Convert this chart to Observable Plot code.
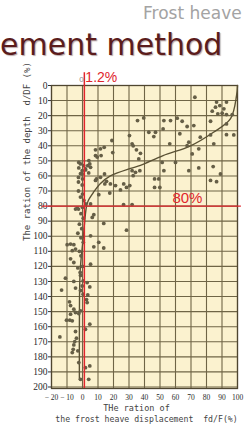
<!DOCTYPE html>
<html>
<head>
<meta charset="utf-8">
<script src="https://cdn.jsdelivr.net/npm/d3@7"></script>
<script src="https://cdn.jsdelivr.net/npm/@observablehq/plot@0.6"></script>
<style>
  html, body { margin: 0; padding: 0; background: #ffffff; }
  #wrap { position: relative; width: 251px; height: 426px; overflow: hidden; }
  #chart { position: absolute; left: 0; top: 0; }
  .t1 { position: absolute; left: 143px; top: 3px; font-family: "DejaVu Sans", sans-serif; font-size: 17px; color: #a3a3a3; white-space: nowrap; }
  .t2 { position: absolute; left: 0px; top: 27px; font-family: "DejaVu Sans", sans-serif; font-size: 30px; color: #5b1c1c; white-space: nowrap; text-shadow: 1px 1px 1px #b9a9a9; }
</style>
</head>
<body>
<div id="wrap">
  <div id="chart"></div>
  <div class="t1">Frost heave</div>
  <div class="t2">ement method</div>
</div>
<script>
// ---- data ----
const xTicks = [-20, -10, 0, 10, 20, 30, 40, 50, 60, 70, 80, 90, 100];
const yTicks = [0, 10, 20, 30, 40, 50, 60, 70, 80, 90, 100, 110, 120, 130, 140, 150, 160, 170, 180, 190, 200];

// [fd/F %, d/DF %]
const upperPoints = [
  [72.5,7.8],[86.5,11],[92.9,11],[88.6,13.3],[85.8,14.4],[91.2,15.5],[83.7,17],[90.1,18.4],[87.3,18.8],[92.9,19.3],[96.6,19.3],
  [82.6,23.7],[92.9,25.5],[52.5,23.3],[56.8,23.3],[61.1,21.7],[64.3,23.7],[67.5,27.2],[71.8,26.6],[39.5,21.5],[35.5,23.3],
  [42.8,31],[47.1,31],[46,33.9],[52,28.8],[62.8,32],[82.6,32.8],[92.9,32.6],[97.6,32.8],[76,34.3],[56.3,38.7],[68.6,37.6],
  [67.5,39.9],[84.7,38.7],[75,42],[70.8,45.4],[51.4,51],[60,51],[52.5,56.5],[68.6,56.5],[75,54.7],[84.3,53.8],[89,58.7],
  [46.5,62],[49.2,62],[46.5,67.6],[49.9,67.6],[82.6,63],[86.5,63.8],[37.4,45],[32,38.7],[36.3,48.7],[30.3,33.2],[32.7,40],
  [34.8,42.7],[32,56.5],[34.2,57.6],[37,56.5],[32.7,59.8],[30.5,66.4],[26.6,65.3],[28.4,67.6],[24.5,69.3],[17.6,71.3],
  [26.5,79],[32,79],[28.4,96]
];
const middlePoints = [
  [19,36.5],[14,41],[8.4,42.7],[11.6,42],[19.5,44.5],[8.4,46.5],[12,46.5],[9.5,47.5],
  [-2.4,51],[-1.3,52],[-2.4,54.7],[-0.2,56.5],[1.9,55.4],[4.1,49.8],[4.7,52],[5.2,54.3],[3.4,53.2],[0.8,53.2],[-0.2,58.7],
  [2,56],[4,58],[-1.3,58.5],[-2.6,61],[0,62],[9,62],[11.6,60.9],[15.5,63.6],[14.2,58.7],[18,65.3],[21.3,66.4],[8.4,63],[14.4,65.3],
  [-2.6,64],[-0.2,66],[-2.6,70],[0,72],[-1.3,74],[0.9,76.3],[2,78.6],[0,80.8],[-2.6,82],[-4.5,82],[5.2,78.6],[10.5,72.4],
  [7.3,85.7],[6.3,87.5],[13.7,91.5],[5.2,99.7],[7.3,107],[13.7,107.8],[10.5,104],[5.2,118.5],[-3.4,81.3],
  [-9.9,105.6],[-7.7,105.2],[-5.6,105.6],[-4.5,108.5],[-6.6,109.6],[-7.7,115],[-5.6,117.4],
  [-1,85],[0.5,88],[-2,92],[-0.5,95],[-3,98],[-1,101],[0.5,104],[-2,110],[-1,113],[0,120],[-3,121],[-1.5,124]
];
const lowerPoints = [
  [-11,127.8],[-13.5,135.7],[-5.6,130],[-4.5,134.4],[-1.3,126],[0.4,129.6],[-0.2,133],[-1.3,136],[0.4,138.4],[3,130.7],
  [4.7,133.6],[3.4,138.9],[3,144],[2.6,142],[-8.4,143.5],[-7.7,146],[-5.6,148.4],[-7.7,151.7],[-4.5,150.6],[-6.6,156.1],
  [-8.2,155.7],[-10.3,155.7],[-2.4,151.3],[-1.3,149.5],[4.7,158.3],[1.9,161.7],[-14.6,166.8],[-4.5,163.2],[-3.9,167.6],
  [-5,169.9],[-5.6,172.1],[-6,175],[-6.6,177.2],[-3,176],[-2.4,183.8],[4.7,186],[1.9,187.2],[-1.3,194.9],[4,194.9]
];
// fitted curve
const curveX = [100, 99.4, 95.5, 84.5, 69.7, 52, 37.4, 31, 18, 11.6, 7, 3.9, 2.6, 0.5, -1.5, -2, -2];
const curveY = [0, 6.6, 22, 31, 40, 46.5, 53, 55, 60, 65, 71, 76, 80, 101, 123, 160, 195];
// reference lines
const refX = 1.2;   // 1.2 %
const refY = 80;    // 80 %
const refXLabel = "1.2%";
const refYLabel = "80%";
const yLabel = "The ration of the depth  d/DF (%)";
const xLabel1 = "THe ration of";
const xLabel2 = "the frost heave displacement  fd/F(%)";

// ---- build ----
const points = [...upperPoints, ...middlePoints, ...lowerPoints].map(([x, y]) => ({x, y}));
const curve = curveX.map((x, i) => ({x, y: curveY[i]}));
const gridCol = "#6f6546";
const red = "#e0262c";

const chart = Plot.plot({
  width: 251,
  height: 426,
  marginTop: 85,
  marginBottom: 38,
  marginLeft: 51,
  marginRight: 14,
  style: {background: "transparent", fontFamily: "'Liberation Serif', serif", fontSize: "9px", color: "#2a2a2a"},
  x: {domain: [-20, 100]},
  y: {domain: [0, 201], reverse: true},
  marks: [
    Plot.frame({fill: "#fbf2cf", stroke: null}),
    Plot.ruleX(xTicks, {stroke: gridCol, strokeWidth: 1.1}),
    Plot.ruleY(yTicks, {stroke: gridCol, strokeWidth: 1.1}),
    Plot.frame({stroke: "#4f4630", strokeWidth: 1.3}),
    Plot.axisY({ticks: yTicks, tickSize: 3, tickPadding: 1, label: null, fontSize: 9.5, stroke: "#333"}),
    Plot.axisX({ticks: xTicks, tickSize: 0, tickPadding: 6, label: null, fontSize: 7.5, tickFormat: d => String(d).replace("-", "− ")}),
    Plot.line(curve, {x: "x", y: "y", curve: "catmull-rom", stroke: "#5a5134", strokeWidth: 1.4}),
    Plot.dot(points, {x: "x", y: "y", r: 1.9, fill: "#655e46", stroke: null}),
    Plot.ruleY([refY], {x1: -26, x2: 102.5, stroke: red, strokeWidth: 1.3}),
    Plot.ruleX([refX], {y1: -8.5, y2: 201, stroke: red, strokeWidth: 1.5}),
    Plot.text([refXLabel], {x: refX, y: -5, dx: 1, textAnchor: "start", fill: red, fontSize: 14, fontFamily: "'Liberation Sans', sans-serif"}),
    Plot.text(["0"], {x: refX, y: -4, dx: -3, fill: "#8a8a8a", fontSize: 8, fontFamily: "'Liberation Sans', sans-serif"}),
    Plot.text([refYLabel], {x: 58, y: refY, dy: -8, textAnchor: "start", fill: red, fontSize: 15, fontFamily: "'Liberation Sans', sans-serif"}),
    Plot.text([yLabel], {frameAnchor: "left", dx: -24, dy: 4, rotate: -90, fontSize: 9, fontFamily: "'DejaVu Sans Mono', monospace", fill: "#444"}),
    Plot.text([xLabel1], {frameAnchor: "bottom", dy: 22, dx: -8, fontSize: 8.5, fontFamily: "'DejaVu Sans Mono', monospace", fill: "#444"}),
    Plot.text([xLabel2], {frameAnchor: "bottom", dy: 33, dx: 2, fontSize: 8.2, fontFamily: "'DejaVu Sans Mono', monospace", fill: "#444"})
  ]
});
document.getElementById("chart").appendChild(chart);
</script>
</body>
</html>
